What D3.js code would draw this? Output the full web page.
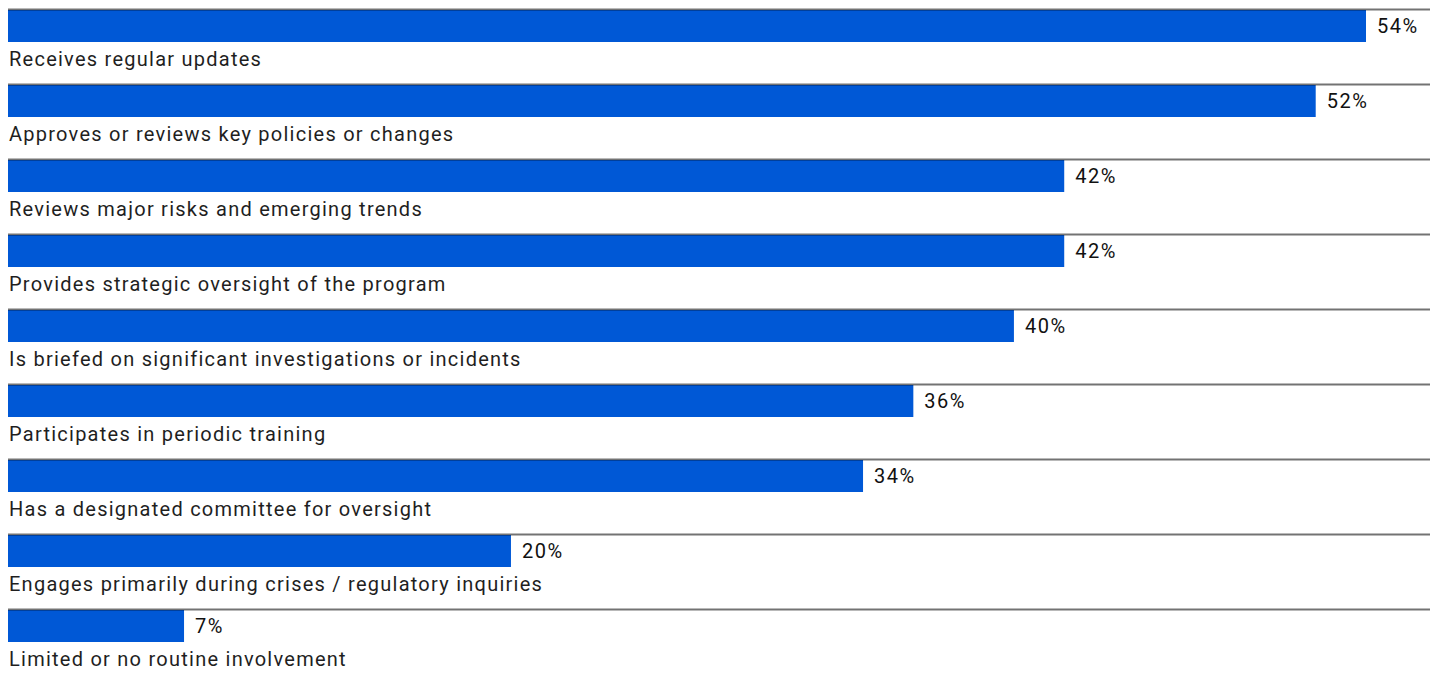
<!DOCTYPE html>
<html>
<head>
<meta charset="utf-8">
<script src="https://cdn.jsdelivr.net/npm/d3@7"></script>
<style>
  html, body { margin: 0; padding: 0; background: #ffffff; }
  svg { display: block; }
  .cat { font-family: Roboto, "Noto Sans", sans-serif; font-size: 20px; fill: #1f1f1f; letter-spacing: 1.25px; }
  .val { font-family: Roboto, "Noto Sans", sans-serif; font-size: 20px; font-weight: 400; fill: #111111; letter-spacing: 1.5px; }
</style>
</head>
<body>
<svg id="chart" width="1442" height="677"></svg>
<script>
// Board involvement in the program, share of respondents
const categories = [
  "Receives regular updates",
  "Approves or reviews key policies or changes",
  "Reviews major risks and emerging trends",
  "Provides strategic oversight of the program",
  "Is briefed on significant investigations or incidents",
  "Participates in periodic training",
  "Has a designated committee for oversight",
  "Engages primarily during crises / regulatory inquiries",
  "Limited or no routine involvement"
];
const values = [54, 52, 42, 42, 40, 36, 34, 20, 7];
const valueLabels = values.map(v => v + "%");

const chartW = 1442, chartH = 677;
const marginLeft = 8, ruleEnd = 1430, marginTop = 9, rowStep = 75, barH = 32;

const svg = d3.select("#chart");

const x = d3.scaleLinear().domain([0, 54]).range([marginLeft, 1366]);
const y = d3.scaleBand()
  .domain(categories)
  .range([marginTop, marginTop + rowStep * categories.length])
  .paddingInner(0).paddingOuter(0);

const rows = svg.selectAll("g.row")
  .data(categories.map((c, i) => ({ cat: c, value: values[i], label: valueLabels[i] })))
  .join("g")
  .attr("class", "row")
  .attr("transform", d => `translate(0,${y(d.cat)})`);

rows.append("rect")
  .attr("x", x(0))
  .attr("y", 1)
  .attr("width", d => x(d.value) - x(0))
  .attr("height", barH)
  .attr("fill", "#0058d6");

// thin rule above each row, translucent so it darkens over the bar
rows.append("line")
  .attr("x1", marginLeft)
  .attr("x2", ruleEnd)
  .attr("y1", 0.5)
  .attr("y2", 0.5)
  .attr("stroke", "#000000")
  .attr("stroke-opacity", 0.55)
  .attr("stroke-width", 2);

rows.append("text")
  .attr("class", "val")
  .attr("x", d => x(d.value) + 11)
  .attr("y", 1 + barH / 2)
  .attr("dy", "0.35em")
  .text(d => d.label);

rows.append("text")
  .attr("class", "cat")
  .attr("x", marginLeft + 1)
  .attr("y", 57)
  .text(d => d.cat);
</script>
</body>
</html>
